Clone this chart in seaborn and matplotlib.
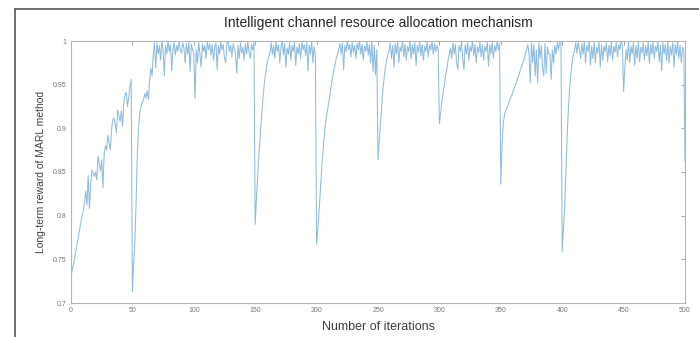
import numpy as np
import pandas as pd
import matplotlib
matplotlib.use("Agg")
import matplotlib.pyplot as plt
from matplotlib.lines import Line2D
import seaborn as sns

# reward values, one per iteration, in blocks of 50
seg_000 = [0.730, 0.738, 0.744, 0.752, 0.760, 0.768, 0.776, 0.784, 0.792, 0.800,
           0.806, 0.815, 0.828, 0.812, 0.846, 0.808, 0.835, 0.852, 0.849, 0.845,
           0.850, 0.841, 0.868, 0.860, 0.851, 0.864, 0.832, 0.870, 0.880, 0.875,
           0.892, 0.884, 0.876, 0.898, 0.910, 0.912, 0.905, 0.895, 0.921, 0.915,
           0.908, 0.920, 0.903, 0.930, 0.939, 0.941, 0.925, 0.935, 0.948, 0.956]
seg_050 = [0.713, 0.745, 0.770, 0.815, 0.870, 0.900, 0.918, 0.925, 0.930, 0.932,
           0.940, 0.935, 0.943, 0.933, 0.955, 0.969, 0.960, 0.985, 0.998, 0.969,
           0.998, 0.985, 0.995, 0.978, 1.000, 0.990, 0.960, 0.995, 0.985, 1.000,
           0.988, 0.996, 0.966, 0.990, 0.998, 0.984, 0.995, 0.988, 1.000, 0.990,
           0.986, 0.998, 0.992, 0.975, 0.997, 0.985, 0.999, 0.965, 0.996, 0.990]
seg_100 = [0.985, 0.934, 0.990, 0.975, 0.998, 0.985, 0.970, 0.997, 0.988, 0.995,
           0.980, 1.000, 0.990, 0.997, 0.984, 0.996, 0.978, 0.992, 0.998, 0.967,
           0.995, 0.985, 0.999, 0.990, 0.996, 0.980, 0.975, 0.998, 1.000, 0.988,
           0.995, 0.982, 0.997, 0.990, 0.985, 0.963, 0.995, 0.980, 0.998, 0.986,
           0.993, 0.978, 0.997, 0.985, 0.999, 0.988, 0.980, 0.996, 0.990, 0.998]
seg_150 = [0.790, 0.820, 0.845, 0.870, 0.890, 0.910, 0.930, 0.945, 0.958, 0.968,
           0.977, 0.982, 0.986, 0.998, 0.985, 0.995, 0.980, 0.999, 0.988, 0.996,
           0.975, 0.993, 1.000, 0.984, 0.997, 0.970, 0.992, 0.985, 0.998, 0.978,
           0.995, 0.988, 0.999, 0.972, 0.993, 0.985, 0.997, 0.980, 0.999, 0.990,
           0.996, 0.983, 0.998, 0.966, 0.995, 0.985, 1.000, 0.975, 0.994, 0.982]
seg_200 = [0.767, 0.785, 0.805, 0.828, 0.850, 0.870, 0.888, 0.902, 0.913, 0.922,
           0.930, 0.940, 0.950, 0.958, 0.966, 0.973, 0.980, 0.985, 0.990, 0.997,
           0.985, 0.998, 0.967, 0.995, 0.988, 1.000, 0.990, 0.996, 0.982, 0.998,
           0.987, 0.995, 0.980, 0.997, 0.990, 1.000, 0.985, 0.996, 0.978, 0.994,
           0.988, 0.999, 0.984, 0.996, 0.975, 1.000, 0.965, 0.995, 0.961, 0.990]
seg_250 = [0.864, 0.885, 0.905, 0.925, 0.945, 0.958, 0.970, 0.978, 0.984, 0.988,
           0.998, 0.980, 0.995, 0.970, 0.997, 0.985, 0.999, 0.975, 0.993, 0.988,
           1.000, 0.982, 0.996, 0.978, 0.994, 0.988, 0.999, 0.980, 0.996, 0.985,
           0.998, 0.972, 0.995, 0.987, 1.000, 0.983, 0.996, 0.978, 0.994, 0.988,
           0.999, 0.982, 0.996, 0.990, 1.000, 0.985, 0.997, 0.988, 0.995, 0.990]
seg_300 = [0.905, 0.918, 0.930, 0.940, 0.950, 0.960, 0.967, 0.978, 0.985, 0.992,
           0.980, 0.998, 0.985, 0.996, 0.975, 0.967, 0.995, 0.988, 0.999, 0.980,
           0.967, 0.996, 0.985, 0.998, 0.978, 0.994, 0.988, 1.000, 0.983, 0.996,
           0.975, 0.993, 0.987, 0.999, 0.982, 0.996, 0.978, 0.994, 0.988, 0.999,
           0.971, 0.996, 0.985, 0.998, 0.980, 0.995, 0.988, 1.000, 0.990, 0.997]
seg_350 = [0.836, 0.881, 0.905, 0.916, 0.920, 0.924, 0.927, 0.931, 0.935, 0.938,
           0.942, 0.946, 0.950, 0.954, 0.958, 0.962, 0.967, 0.971, 0.975, 0.980,
           0.985, 0.990, 0.996, 0.985, 0.952, 0.998, 0.975, 0.996, 0.960, 0.990,
           0.952, 0.998, 0.980, 0.995, 0.970, 0.960, 0.997, 0.963, 0.993, 0.985,
           0.985, 0.956, 0.990, 0.975, 0.995, 0.985, 0.998, 0.990, 1.000, 0.996]
seg_400 = [0.759, 0.785, 0.810, 0.850, 0.890, 0.920, 0.945, 0.961, 0.975, 0.985,
           0.988, 0.998, 0.986, 0.999, 0.990, 0.980, 0.997, 0.985, 0.999, 0.975,
           0.995, 0.988, 1.000, 0.972, 0.994, 0.980, 0.998, 0.975, 0.993, 0.986,
           0.999, 0.970, 0.996, 0.978, 0.994, 0.988, 0.998, 0.976, 0.995, 0.983,
           0.999, 0.978, 0.994, 0.987, 0.998, 0.982, 0.996, 0.990, 1.000, 0.995]
seg_450 = [0.942, 0.970, 0.990, 0.978, 0.999, 0.975, 0.994, 0.985, 0.998, 0.972,
           0.995, 0.980, 0.999, 0.976, 0.993, 0.986, 0.998, 0.978, 0.995, 0.983,
           0.999, 0.974, 0.996, 0.985, 0.998, 0.980, 0.994, 0.988, 1.000, 0.976,
           0.995, 0.966, 0.998, 0.985, 0.996, 0.978, 0.999, 0.975, 0.994, 0.984,
           0.998, 0.970, 0.996, 0.985, 0.999, 0.980, 0.995, 0.975, 0.993, 0.990,
           0.862]

reward = seg_000 + seg_050 + seg_100 + seg_150 + seg_200 + seg_250 + seg_300 + seg_350 + seg_400 + seg_450
iterations = list(range(len(reward)))

x_ticks = [0, 50, 100, 150, 200, 250, 300, 350, 400, 450, 500]
y_ticks = [0.7, 0.75, 0.8, 0.85, 0.9, 0.95, 1.0]
y_tick_labels = ["0.7", "0.75", "0.8", "0.85", "0.9", "0.95", "1"]

df = pd.DataFrame({"iteration": iterations, "reward": reward})

sns.set_style("white")
plt.rcParams["font.family"] = ["Liberation Sans", "DejaVu Sans"]

fig = plt.figure(figsize=(6.99, 3.37), dpi=100)
ax = fig.add_axes([71 / 699, 1 - 303 / 337, (685 - 71) / 699, (303 - 41) / 337])

sns.lineplot(data=df, x="iteration", y="reward", ax=ax, color="#8fbbe0", linewidth=0.75)

ax.set_xlim(0, 500)
ax.set_ylim(0.7, 1.0)
ax.set_xticks(x_ticks)
ax.set_xticklabels([str(t) for t in x_ticks])
ax.set_yticks(y_ticks)
ax.set_yticklabels(y_tick_labels)
ax.tick_params(direction="in", length=3, width=0.6, colors="#9a9a9a",
               labelsize=5, labelcolor="#777777", top=True, right=True, pad=3)
for sp in ax.spines.values():
    sp.set_color("#b5b5b5")
    sp.set_linewidth(0.8)

ax.set_title("Intelligent channel resource allocation mechanism", fontsize=10, color="#262626", pad=10)
ax.set_xlabel("Number of iterations", fontsize=9, color="#404040", labelpad=5)
ax.set_ylabel("Long-term reward of MARL method", fontsize=7.5, color="#404040", labelpad=5)

# outer frame of the screenshot (left and top edges)
fig.add_artist(Line2D([15 / 699, 15 / 699], [0, 1 - 9 / 337], transform=fig.transFigure,
                      color="#555555", linewidth=1.2))
fig.add_artist(Line2D([15 / 699, 1], [1 - 9 / 337, 1 - 9 / 337], transform=fig.transFigure,
                      color="#555555", linewidth=1.2))

fig.savefig("out.png", dpi=100)
plt.close(fig)
